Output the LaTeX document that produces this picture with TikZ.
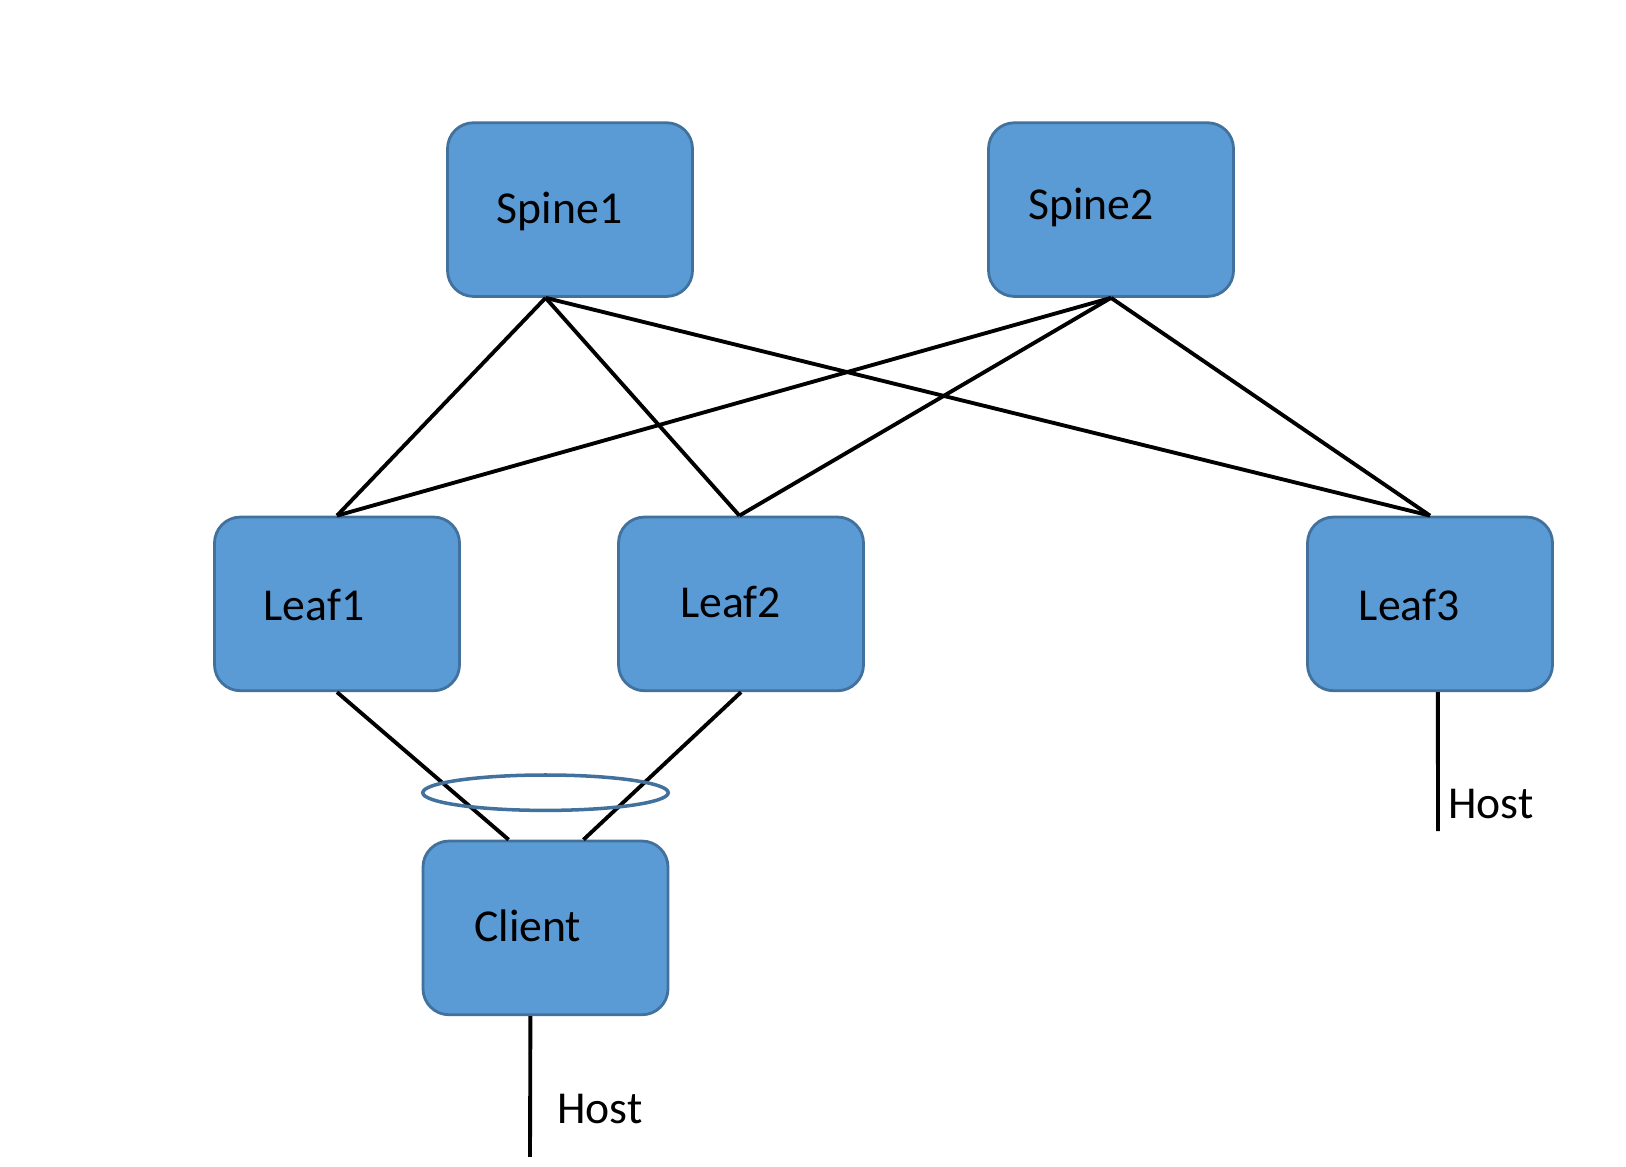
\documentclass[tikz,border=0pt]{standalone}
\usepackage{fontspec}
\setmainfont{Carlito}
\usetikzlibrary{shapes.geometric}
\definecolor{bleu}{HTML}{5B9BD5}
\definecolor{bordure}{HTML}{41719C}
\tikzset{equip/.style = {draw = bordure, fill = bleu, rounded corners = 0.26cm,
                         minimum width = 2.45cm, minimum height = 1.737cm,
                         line width = 0.8pt},
         nom/.style = {font = \fontsize{13}{15.6}\selectfont, inner sep = 0pt},
         lien/.style = {draw, black, line width = 1.1pt}
        }

\begin{document}
\begin{tikzpicture}
\useasboundingbox (0,0) rectangle (16.26,-11.67);
% equipements
\node[equip, label={[nom, xshift=-0.104cm, yshift=-0.02cm]center:Spine1}] (spine1) at (5.70,-2.096) {};
\node[equip, label={[nom, xshift=-0.198cm, yshift=0.02cm]center:Spine2}] (spine2) at (11.11,-2.096) {};
\node[equip, label={[nom, xshift=-0.229cm, yshift=-0.01cm]center:Leaf1}] (leaf1) at (3.37,-6.039) {};
\node[equip, label={[nom, xshift=-0.104cm, yshift=0.02cm]center:Leaf2}] (leaf2) at (7.41,-6.039) {};
\node[equip, label={[nom, xshift=-0.208cm, yshift=-0.01cm]center:Leaf3}] (leaf3) at (14.30,-6.039) {};
\node[equip, label={[nom, xshift=-0.177cm, yshift=0.02cm]center:Client}] (client) at (5.455,-9.279) {};
% liens spine -> leaf
\foreach \l/\dx in {leaf1/0, leaf2/-0.016, leaf3/0}
 {
  \draw[lien] ([xshift=-0.244cm]spine1.south) -- ([xshift=\dx cm]\l.north);
  \draw[lien] (spine2.south) -- ([xshift=\dx cm]\l.north);
 }
% liens leaf -> client
\draw[lien] (leaf1.south) -- ([xshift=-0.369cm]client.north);
\draw[lien] (leaf2.south) -- ([xshift=0.380cm]client.north);
\node[draw = bordure, line width = 1pt, ellipse, minimum width = 2.455cm,
      minimum height = 0.354cm, inner sep = 0pt] (lag) at (5.455,-7.927) {};
% hotes
\coordinate (h1) at (5.30,-11.568);
\coordinate (h2) at (14.38,-8.31);
\draw[lien] ([xshift=-0.151cm]client.south) -- (h1);
\draw[lien] ([xshift=0.078cm]leaf3.south) -- (h2);
\node[nom] (host1) at (6.00,-11.090) {Host};
\node[nom] (host2) at (14.91,-8.045) {Host};
\end{tikzpicture}
\end{document}
